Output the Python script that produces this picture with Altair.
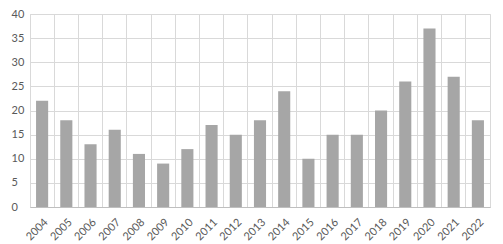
import altair as alt
import pandas as pd

years = [str(y) for y in range(2004, 2023)]
values = [22, 18, 13, 16, 11, 9, 12, 17, 15, 18, 24, 10, 15, 15, 20, 26, 37, 27, 18]

df = pd.DataFrame({"year": years, "value": values})

chart = alt.Chart(df).mark_bar(color="#a6a6a6", width=alt.RelativeBandSize(0.5)).encode(
    x=alt.X("year:O", title=None, sort=years,
            scale=alt.Scale(paddingInner=0, paddingOuter=0),
            axis=alt.Axis(labelAngle=-45, grid=True, bandPosition=0, gridColor="#d9d9d9",
                          ticks=False, domainColor="#bfbfbf", labelColor="#595959",
                          labelFont="Lato", labelFontSize=11, labelPadding=9,
                          labelOffset=0)),
    y=alt.Y("value:Q", title=None,
            scale=alt.Scale(domain=[0, 40]),
            axis=alt.Axis(values=list(range(0, 45, 5)), gridColor="#d9d9d9", ticks=False,
                          domain=False, labelColor="#595959", labelFont="Lato",
                          labelFontSize=11, labelAlign="left", labelPadding=19)),
).properties(
    width=460, height=193,
    autosize=alt.AutoSizeParams(type="none"),
    padding={"left": 22, "top": 6, "right": 5, "bottom": 37},
).configure_view(stroke="#d9d9d9")

chart.save("out.html", embed_options={"renderer": "svg", "actions": False})
